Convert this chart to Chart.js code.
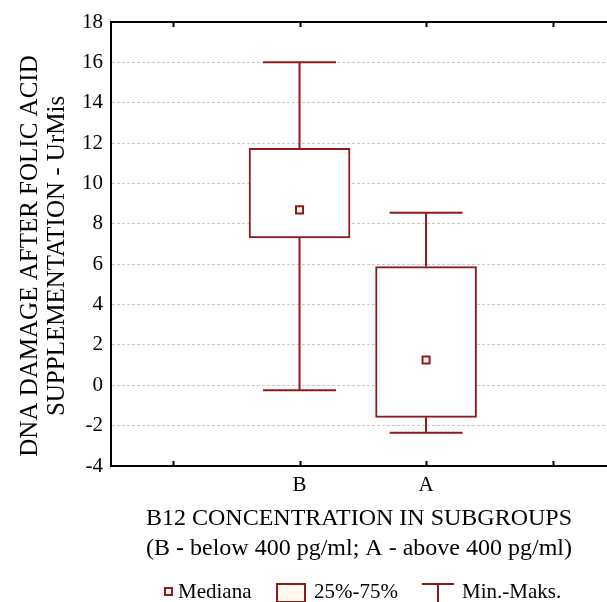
<html>
  <head>
    <title>DNA damage by B12 subgroup</title>
    <script src="https://cdn.jsdelivr.net/npm/chart.js"></script>
    <style>
      html, body {
        margin: 0;
        background: #fff;
        overflow: hidden;
        font-family: "Liberation Serif", serif;
      }
      .wrap {
        position: relative;
        width: 607px;
        height: 602px;
      }
      #boxChart { display: block; }
      /* legend under the axis titles */
      .legend {
        position: absolute;
        left: 0;
        top: 579px;
        width: 607px;
        height: 23px;
        font-size: 21px;
        color: #000;
      }
      .legend span { position: absolute; }
      .mark-med {
        width: 5px; height: 5px;
        border: 2px solid #8e1b1b;
        background: #fff8ec;
      }
      .mark-box {
        width: 26px; height: 16px;
        border: 2px solid #8e1b1b;
        background: #fff8ec;
      }
    </style>
  </head>
  <body>
    <div class="wrap">
      <canvas id="boxChart" width="607" height="602"></canvas>
      <div class="legend">
        <span class="mark-med" style="left:164px; top:8px;"></span>
        <span style="left:178px; top:0px;">Mediana</span>
        <span class="mark-box" style="left:276px; top:4px;"></span>
        <span style="left:314px; top:0px;">25%-75%</span>
        <canvas id="whiskIcon" width="34" height="23" style="position:absolute; left:421px; top:0px;"></canvas>
        <span style="left:462px; top:0px;">Min.-Maks.</span>
      </div>
    </div>

    <script>
      // data
      const groups = ['B', 'A'];
      const groupPos = [1, 2];
      const tickLabels = ['', 'B', 'A', ''];
      const minVals = [-0.25, -2.35];
      const q1Vals = [7.3, -1.59];
      const medianVals = [8.69, 1.25];
      const q3Vals = [11.74, 5.88];
      const maxVals = [16.0, 8.55];
      const yTitleLines = ['DNA DAMAGE AFTER FOLIC ACID', 'SUPPLEMENTATION - UrMis'];

      const darkRed = '#8e1b1b';
      const cream = '#fff8ec';

      // whiskers, top frame, inward ticks and the y title
      const boxExtras = {
        id: 'boxExtras',
        beforeDatasetsDraw(chart) {
          const ctx = chart.ctx;
          const x = chart.scales.x, y = chart.scales.y;
          ctx.save();
          ctx.strokeStyle = darkRed;
          ctx.lineWidth = 2;
          groupPos.forEach((p, i) => {
            const px = x.getPixelForValue(p);
            const half = 36.5;
            ctx.beginPath();
            ctx.moveTo(px, y.getPixelForValue(q3Vals[i]));
            ctx.lineTo(px, y.getPixelForValue(maxVals[i]));
            ctx.moveTo(px - half, y.getPixelForValue(maxVals[i]));
            ctx.lineTo(px + half, y.getPixelForValue(maxVals[i]));
            ctx.moveTo(px, y.getPixelForValue(q1Vals[i]));
            ctx.lineTo(px, y.getPixelForValue(minVals[i]));
            ctx.moveTo(px - half, y.getPixelForValue(minVals[i]));
            ctx.lineTo(px + half, y.getPixelForValue(minVals[i]));
            ctx.stroke();
          });
          ctx.restore();
        },
        afterDraw(chart) {
          const ctx = chart.ctx;
          const a = chart.chartArea;
          const x = chart.scales.x;
          ctx.save();
          ctx.strokeStyle = '#000';
          ctx.lineWidth = 2;
          ctx.beginPath();
          ctx.moveTo(a.left - 1, a.top);
          ctx.lineTo(a.right, a.top);
          x.ticks.forEach(t => {
            const px = Math.round(x.getPixelForValue(t.value)) + 0.5;
            ctx.moveTo(px, a.top);
            ctx.lineTo(px, a.top + 5);
            ctx.moveTo(px, a.bottom);
            ctx.lineTo(px, a.bottom - 5);
          });
          ctx.stroke();

          // y axis title, two rotated lines
          ctx.fillStyle = '#000';
          ctx.font = '25px "Liberation Serif"';
          ctx.textAlign = 'center';
          ctx.textBaseline = 'middle';
          ctx.translate(0, 256);
          ctx.rotate(-Math.PI / 2);
          yTitleLines.forEach((line, i) => {
            ctx.fillText(line, 0, 30 + i * 27);
          });
          ctx.restore();
        }
      };

      const ctx1 = document.getElementById('boxChart').getContext('2d');
      const boxChart = new Chart(ctx1, {
        data: {
          datasets: [
            {
              type: 'scatter',
              label: 'Mediana',
              data: groupPos.map((p, i) => ({ x: p, y: medianVals[i] })),
              pointStyle: 'rect',
              pointRadius: 5,
              borderWidth: 2,
              borderColor: darkRed,
              backgroundColor: cream,
              order: 0
            },
            {
              type: 'bar',
              label: '25%-75%',
              data: groupPos.map((p, i) => ({ x: p, y: [q1Vals[i], q3Vals[i]] })),
              barThickness: 101,
              borderWidth: 2,
              borderSkipped: false,
              borderColor: darkRed,
              backgroundColor: '#ffffff',
              order: 1
            }
          ]
        },
        options: {
          responsive: false,
          animation: false,
          layout: { autoPadding: false, padding: { top: 22, right: 0, bottom: 0, left: 0 } },
          plugins: {
            legend: { display: false },
            tooltip: { enabled: false }
          },
          scales: {
            x: {
              type: 'linear',
              offset: false,
              min: -0.49,
              max: 3.43,
              afterBuildTicks(scale) {
                scale.ticks = tickLabels.map((t, i) => ({ value: i }));
              },
              afterFit(scale) {
                scale.height = 136;
                scale.paddingRight = 0;
                scale.paddingLeft = 0;
              },
              grid: { display: false, drawTicks: false, offset: false },
              border: { color: '#000', width: 2 },
              ticks: {
                padding: 7,
                color: '#000',
                font: { family: 'Liberation Serif', size: 21 },
                callback: (v) => tickLabels[v] || ''
              },
              title: {
                display: true,
                text: ['B12 CONCENTRATION IN SUBGROUPS', '(B - below 400 pg/ml; A - above 400 pg/ml)'],
                color: '#000',
                font: { family: 'Liberation Serif', size: 24, lineHeight: 1.25 },
                padding: { top: 0, bottom: 38 }
              }
            },
            y: {
              min: -4,
              max: 18,
              afterFit(scale) { scale.width = 111; },
              grid: { color: '#c8c8c8', lineWidth: 1, drawTicks: false },
              border: { color: '#000', width: 2, dash: [3, 2] },
              ticks: {
                stepSize: 2,
                padding: 8,
                color: '#000',
                font: { family: 'Liberation Serif', size: 21 }
              },
              title: { display: false }
            }
          }
        },
        plugins: [boxExtras]
      });

      // whisker glyph for the legend
      const w = document.getElementById('whiskIcon').getContext('2d');
      w.strokeStyle = darkRed;
      w.lineWidth = 2;
      w.beginPath();
      w.moveTo(1, 5); w.lineTo(33, 5);
      w.moveTo(17, 5); w.lineTo(17, 23);
      w.stroke();
    </script>
  </body>
</html>
